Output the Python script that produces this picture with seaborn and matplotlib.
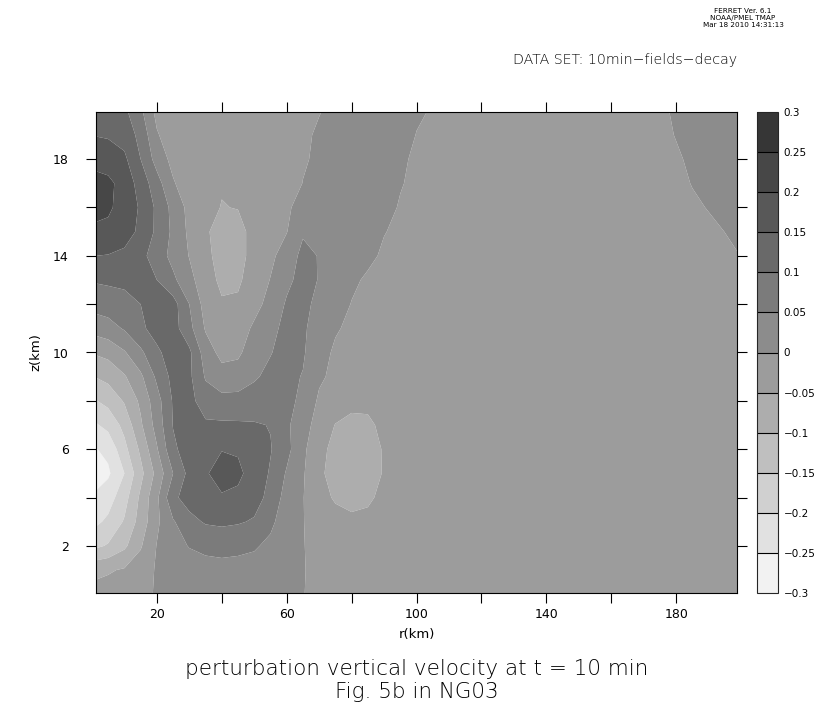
import numpy as np
import seaborn as sns
import matplotlib.pyplot as plt

# grid: radius (km) and height (km)
r_km = [1.25, 5, 10, 15, 20, 25, 30, 35, 40, 45, 50, 55, 60, 65, 70, 75, 80, 85, 90, 95,
        100, 110, 120, 140, 160, 175, 185, 198.75]
z_km = list(range(0, 21))

# perturbation vertical velocity (m/s), one row per height, columns follow r_km
w_z0 = [-0.035, -0.03, -0.025, -0.012, 0.004, 0.012, 0.018, 0.02, 0.022, 0.02,
        0.018, 0.014, 0.008, 0.001, -0.008, -0.012, -0.018, -0.018, -0.018, -0.018,
        -0.018, -0.018, -0.018, -0.018, -0.018, -0.018, -0.018, -0.018]
w_z1 = [-0.06, -0.055, -0.045, -0.025, 0.005, 0.02, 0.03, 0.035, 0.038, 0.036,
        0.033, 0.025, 0.012, 0.002, -0.01, -0.015, -0.02, -0.02, -0.02, -0.02,
        -0.02, -0.02, -0.02, -0.02, -0.02, -0.02, -0.02, -0.02]
w_z2 = [-0.16, -0.145, -0.11, -0.055, 0.002, 0.035, 0.052, 0.06, 0.062, 0.06,
        0.055, 0.04, 0.02, 0.002, -0.015, -0.02, -0.02, -0.02, -0.02, -0.02,
        -0.02, -0.02, -0.02, -0.02, -0.02, -0.02, -0.02, -0.02]
w_z3 = [-0.21, -0.19, -0.145, -0.08, -0.01, 0.045, 0.085, 0.105, 0.11, 0.105,
        0.095, 0.06, 0.025, 0.002, -0.025, -0.035, -0.04, -0.035, -0.028, -0.022,
        -0.02, -0.02, -0.02, -0.02, -0.02, -0.02, -0.02, -0.02]
w_z4 = [-0.238, -0.222, -0.17, -0.09, -0.01, 0.09, 0.12, 0.13, 0.145, 0.14,
        0.12, 0.085, 0.03, 0.002, -0.035, -0.055, -0.065, -0.06, -0.035, -0.025,
        -0.02, -0.02, -0.02, -0.02, -0.02, -0.02, -0.02, -0.02]
w_z5 = [-0.28, -0.258, -0.2, -0.115, -0.035, 0.05, 0.115, 0.145, 0.17, 0.16,
        0.13, 0.095, 0.045, 0.005, -0.04, -0.07, -0.085, -0.08, -0.045, -0.028,
        -0.022, -0.02, -0.02, -0.02, -0.02, -0.02, -0.02, -0.02]
w_z6 = [-0.252, -0.238, -0.165, -0.09, -0.005, 0.09, 0.125, 0.14, 0.148, 0.145,
        0.13, 0.103, 0.065, 0.01, -0.035, -0.065, -0.08, -0.075, -0.045, -0.028,
        -0.022, -0.02, -0.02, -0.02, -0.02, -0.02, -0.02, -0.02]
w_z7 = [-0.205, -0.185, -0.135, -0.058, 0.02, 0.102, 0.12, 0.108, 0.108, 0.107,
        0.105, 0.098, 0.06, 0.015, -0.015, -0.052, -0.07, -0.062, -0.035, -0.022,
        -0.02, -0.02, -0.02, -0.02, -0.02, -0.02, -0.02, -0.02]
w_z8 = [-0.152, -0.135, -0.095, -0.04, 0.03, 0.105, 0.115, 0.075, 0.065, 0.065,
        0.068, 0.065, 0.062, 0.04, -0.008, -0.018, -0.03, -0.035, -0.025, -0.02,
        -0.02, -0.02, -0.02, -0.02, -0.02, -0.02, -0.02, -0.02]
w_z9 = [-0.098, -0.085, -0.055, -0.01, 0.06, 0.115, 0.11, 0.045, 0.02, 0.025,
        0.045, 0.06, 0.06, 0.048, 0.008, -0.012, -0.018, -0.02, -0.02, -0.02,
        -0.02, -0.02, -0.02, -0.02, -0.02, -0.02, -0.02, -0.02]
w_z10 = [-0.044, -0.035, -0.005, 0.04, 0.09, 0.125, 0.11, 0.025, -0.015, -0.01,
         0.03, 0.048, 0.065, 0.055, 0.02, -0.008, -0.014, -0.018, -0.02, -0.02,
         -0.02, -0.02, -0.02, -0.02, -0.02, -0.02, -0.02, -0.02]
w_z11 = [0.02, 0.03, 0.055, 0.09, 0.12, 0.12, 0.065, -0.005, -0.035, -0.03,
         0.01, 0.04, 0.06, 0.055, 0.035, 0.005, -0.01, -0.015, -0.02, -0.02,
         -0.02, -0.02, -0.02, -0.02, -0.02, -0.02, -0.02, -0.02]
w_z12 = [0.07, 0.075, 0.085, 0.1, 0.115, 0.12, 0.05, -0.02, -0.045, -0.045,
         -0.02, 0.02, 0.055, 0.06, 0.04, 0.025, -0.002, -0.012, -0.016, -0.02,
         -0.02, -0.02, -0.02, -0.02, -0.02, -0.02, -0.02, -0.015]
w_z13 = [0.105, 0.108, 0.11, 0.11, 0.1, 0.06, 0.015, -0.03, -0.06, -0.055,
         -0.035, 0.002, 0.04, 0.065, 0.048, 0.035, 0.01, -0.008, -0.015, -0.018,
         -0.02, -0.02, -0.02, -0.02, -0.02, -0.02, -0.018, -0.01]
w_z14 = [0.15, 0.148, 0.14, 0.115, 0.075, 0.035, -0.002, -0.04, -0.065, -0.06,
         -0.04, -0.012, 0.025, 0.062, 0.048, 0.03, 0.025, 0.012, -0.008, -0.015,
         -0.018, -0.02, -0.02, -0.02, -0.02, -0.02, -0.014, -0.001]
w_z15 = [0.19, 0.185, 0.17, 0.14, 0.09, 0.04, -0.01, -0.045, -0.065, -0.06,
         -0.04, -0.025, -0.002, 0.045, 0.04, 0.03, 0.03, 0.022, 0.002, -0.01,
         -0.016, -0.018, -0.018, -0.018, -0.018, -0.018, -0.01, 0.004]
w_z16 = [0.215, 0.21, 0.175, 0.145, 0.09, 0.035, -0.015, -0.042, -0.051, -0.049,
         -0.04, -0.03, -0.005, 0.012, 0.018, 0.022, 0.028, 0.025, 0.015, -0.004,
         -0.012, -0.016, -0.016, -0.016, -0.016, -0.016, -0.004, 0.01]
w_z17 = [0.22, 0.212, 0.18, 0.13, 0.07, 0.005, -0.03, -0.045, -0.048, -0.048,
         -0.045, -0.04, -0.025, 0.001, 0.01, 0.02, 0.026, 0.028, 0.02, 0.003,
         -0.01, -0.016, -0.016, -0.016, -0.016, -0.014, 0.001, 0.014]
w_z18 = [0.18, 0.175, 0.16, 0.1, 0.03, -0.015, -0.04, -0.048, -0.049, -0.049,
         -0.047, -0.04, -0.025, -0.005, 0.008, 0.015, 0.022, 0.025, 0.022, 0.006,
         -0.006, -0.015, -0.016, -0.016, -0.016, -0.01, 0.004, 0.018]
w_z19 = [0.148, 0.145, 0.13, 0.085, 0.005, -0.03, -0.045, -0.048, -0.048, -0.048,
         -0.045, -0.035, -0.02, -0.008, 0.006, 0.015, 0.02, 0.022, 0.02, 0.015,
         -0.001, -0.012, -0.015, -0.015, -0.015, -0.006, 0.008, 0.02]
w_z20 = [0.12, 0.115, 0.11, 0.06, -0.015, -0.03, -0.04, -0.045, -0.045, -0.045,
         -0.04, -0.035, -0.025, -0.015, -0.002, 0.01, 0.015, 0.02, 0.018, 0.012,
         0.005, -0.01, -0.015, -0.015, -0.015, -0.004, 0.01, 0.02]

levels = [-0.3, -0.25, -0.2, -0.15, -0.1, -0.05, 0, 0.05, 0.1, 0.15, 0.2, 0.25, 0.3]
level_labels = ["\u22120.3", "\u22120.25", "\u22120.2", "\u22120.15", "\u22120.1", "\u22120.05",
                "0", "0.05", "0.1", "0.15", "0.2", "0.25", "0.3"]

w = np.array([w_z0, w_z1, w_z2, w_z3, w_z4, w_z5, w_z6, w_z7, w_z8, w_z9, w_z10,
              w_z11, w_z12, w_z13, w_z14, w_z15, w_z16, w_z17, w_z18, w_z19, w_z20])

sns.set_style("ticks")
plt.rcParams["font.family"] = ["DejaVu Sans"]
plt.rcParams["text.color"] = "black"
plt.rcParams["axes.labelcolor"] = "black"
plt.rcParams["xtick.color"] = "black"
plt.rcParams["ytick.color"] = "black"

greys = sns.blend_palette(["#f2f2f2", "#363636"], n_colors=12)

fig = plt.figure(figsize=(8.19, 7.06), dpi=100)
ax = fig.add_axes([96 / 819, 113 / 706, 641 / 819, 481 / 706])
cax = fig.add_axes([757 / 819, 113 / 706, 21 / 819, 481 / 706])

cs = ax.contourf(r_km, z_km, w, levels=levels, colors=greys, antialiased=True)
ax.set_xlim(1.25, 198.75)
ax.set_ylim(0.05, 19.95)

ax.set_xticks([20, 60, 100, 140, 180])
ax.set_xticks([40, 80, 120, 160], minor=True)
ax.set_yticks([2, 6, 10, 14, 18])
ax.set_yticks([4, 8, 12, 16], minor=True)
ax.tick_params(which="both", direction="out", length=7.5, width=0.8,
               top=True, right=True, labelsize=9)
ax.tick_params(axis="x", pad=3)
ax.tick_params(axis="y", pad=12)
for side in ax.spines.values():
    side.set_linewidth(0.8)
    side.set_color("black")
ax.set_xlabel("r(km)", fontsize=9.5, labelpad=5)
ax.set_ylabel("z(km)", fontsize=9.5, labelpad=8)

cb = fig.colorbar(cs, cax=cax, drawedges=True, ticks=levels)
cb.ax.set_yticklabels(level_labels)
cb.ax.tick_params(length=0, labelsize=7.5, pad=4)
cb.outline.set_linewidth(0.8)
cb.dividers.set_color("black")
cb.dividers.set_linewidth(0.8)

fig.text(417 / 819, 1 - 669 / 706, "perturbation vertical velocity at t = 10 min",
         ha="center", va="center", fontsize=15.5, fontweight="light")
fig.text(417 / 819, 1 - 692 / 706, "Fig. 5b in NG03",
         ha="center", va="center", fontsize=15.5, fontweight="light")
fig.text(737 / 819, 1 - 60 / 706, "DATA SET: 10min\u2212fields\u2212decay",
         ha="right", va="center", fontsize=10.2, fontweight="light")
fig.text(743 / 819, 1 - 18 / 706, "FERRET Ver. 6.1\nNOAA/PMEL TMAP\nMar 18 2010 14:31:13",
         ha="center", va="center", fontsize=5.2, linespacing=1.15)

fig.savefig("out.png", dpi=100)
